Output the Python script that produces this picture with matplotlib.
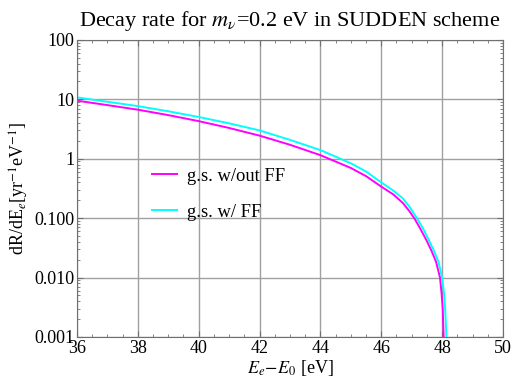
import matplotlib
matplotlib.use('Agg')
import matplotlib.pyplot as plt
from matplotlib.ticker import FixedLocator, FixedFormatter, MultipleLocator, LogLocator, NullFormatter

plt.rcParams['font.family'] = ['Liberation Serif', 'DejaVu Serif']
plt.rcParams['mathtext.fontset'] = 'stix'

x_noff = [36.0, 37.0, 38.0, 39.0, 40.0, 41.0, 42.0, 43.0, 44.0, 45.0, 45.5, 46.0,
          46.4, 46.71, 46.93, 47.1, 47.3, 47.5, 47.64, 47.8, 47.93, 47.98, 48.02, 48.05]
y_noff = [9.5, 8.0, 6.7, 5.43, 4.3, 3.3, 2.45, 1.72, 1.15, 0.70, 0.51, 0.34,
          0.25, 0.18, 0.13, 0.097, 0.064, 0.041, 0.029, 0.0185, 0.010, 0.0055, 0.003, 0.001]

x_ff = [36.0, 37.0, 38.0, 39.0, 40.0, 41.0, 42.0, 43.0, 44.0, 45.0, 45.5, 46.0,
        46.4, 46.71, 46.93, 47.17, 47.38, 47.58, 47.72, 47.88, 48.0, 48.06, 48.10, 48.14]
y_ff = [10.8, 9.1, 7.7, 6.3, 5.05, 3.95, 3.0, 2.08, 1.40, 0.84, 0.61, 0.40,
        0.29, 0.215, 0.155, 0.1, 0.066, 0.041, 0.029, 0.0185, 0.010, 0.0055, 0.003, 0.001]

ytick_vals = [0.001, 0.01, 0.1, 1, 10, 100]
ytick_labels = ['0.001', '0.010', '0.100', '1', '10', '100']

fig = plt.figure(figsize=(5.13, 3.84), dpi=100)
ax = fig.add_axes([0.150, 0.1224, 0.8305, 0.7736])

ax.plot(x_noff, y_noff, color='#ff00ff', lw=1.4, label='g.s. w/out FF')
ax.plot(x_ff, y_ff, color='#00ffff', lw=1.4, label='g.s. w/ FF')

ax.set_yscale('log')
ax.set_xlim(36, 50)
ax.set_ylim(0.001, 100)
ax.xaxis.set_major_locator(MultipleLocator(2))
ax.xaxis.set_minor_locator(MultipleLocator(0.5))
ax.yaxis.set_major_locator(FixedLocator(ytick_vals))
ax.yaxis.set_major_formatter(FixedFormatter(ytick_labels))
ax.yaxis.set_minor_locator(LogLocator(base=10, subs=range(2, 10)))
ax.yaxis.set_minor_formatter(NullFormatter())

ax.grid(True, which='major', color='#a0a0a0', lw=1.0)
for s in ax.spines.values():
    s.set_color('#707070')
ax.tick_params(which='both', direction='in', top=True, right=True, color='#707070', labelsize=13, pad=2)
ax.tick_params(which='major', length=4)
ax.tick_params(which='minor', length=2.5)

ax.set_title(r'Decay rate for $m_\nu$=0.2 eV in SUDDEN scheme', fontsize=16, pad=10)
ax.set_xlabel(r'$E_e\!-\!E_0$ [eV]', fontsize=13, labelpad=1)
ax.set_ylabel(r'dR/dE$_e$[yr$^{-1}$eV$^{-1}$]', fontsize=13, labelpad=2)

ax.legend(loc='upper left', bbox_to_anchor=(0.176, 0.57), frameon=False, fontsize=13.3,
          handlelength=1.35, handletextpad=0.54, labelspacing=1.04, borderpad=0, borderaxespad=0)

fig.savefig('out.png', dpi=100)
